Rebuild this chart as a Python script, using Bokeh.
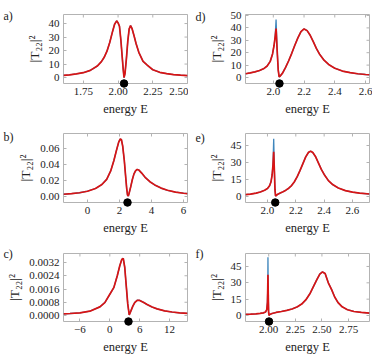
import math
from bokeh.plotting import figure
from bokeh.layouts import gridplot
from bokeh.models import Range1d, FixedTicker
from bokeh.core.properties import value
from bokeh.embed import file_html
from bokeh.resources import INLINE

RED = "#d81414"
BLUE = "#3f86bc"
SPINE = "#b3b3b3"
TXT = "#222222"
FONT = "Liberation Serif"

# ---------------- data ----------------
# panel a
a_E = [1.607, 1.65, 1.70, 1.75, 1.80, 1.85, 1.88, 1.90, 1.92, 1.94, 1.96, 1.975, 1.99, 2.0,
       2.01, 2.02, 2.03, 2.037, 2.043, 2.05, 2.06, 2.07, 2.08, 2.09, 2.10, 2.115, 2.13, 2.15,
       2.18, 2.21, 2.25, 2.30, 2.35, 2.40, 2.45, 2.50]
a_red = [1.6, 2.0, 2.7, 3.6, 5.3, 8.5, 11.8, 15, 19.5, 26, 34, 39.5, 42, 40.5,
         38, 28, 15, 6, 0, 3, 14, 27, 36, 38.5, 36.5, 31, 25, 18.5,
         12, 9.2, 5.8, 3.9, 2.9, 2.2, 1.8, 1.5]
a_blue = a_red
a_zero = 2.043

# panel b
b_E = [-1.5, -1.0, -0.5, 0.0, 0.5, 0.9, 1.2, 1.45, 1.65, 1.8, 1.95, 2.05, 2.12, 2.2, 2.3,
       2.38, 2.45, 2.5, 2.55, 2.6, 2.7, 2.8, 2.9, 3.0, 3.1, 3.2, 3.4, 3.6, 3.9, 4.2, 4.6,
       5.0, 5.5, 6.0, 6.25]
b_red = [0.0028, 0.0035, 0.0047, 0.0066, 0.0100, 0.0150, 0.0215, 0.032, 0.045, 0.057,
         0.068, 0.072, 0.071, 0.063, 0.045, 0.026, 0.010, 0.002, 0.0005, 0.004, 0.012,
         0.021, 0.028, 0.032, 0.0338, 0.0332, 0.029, 0.024, 0.0185, 0.0145, 0.0105,
         0.0078, 0.0055, 0.0041, 0.0036]
b_blue = b_red
b_zero = 2.5

# panel c
c_E = [-9.3, -8, -6, -4, -2, -1, 0, 0.8, 1.5, 2.0, 2.4, 2.7, 3.0, 3.3, 3.6, 3.9, 4.2,
       4.6, 5.0, 5.5, 6.0, 6.8, 7.5, 8.5, 9.5, 11, 12.5, 14, 15.6]
c_red = [0.00010, 0.00012, 0.00016, 0.00026, 0.00052, 0.00078, 0.00128, 0.00168, 0.0024,
         0.0030, 0.00338, 0.00345, 0.0029, 0.0018, 0.0007, 0.00003, 0.00025, 0.00055,
         0.00078, 0.00092, 0.00091, 0.00079, 0.00066, 0.00051, 0.0004, 0.00028, 0.00021,
         0.00016, 0.00013]
c_blue = c_red
c_zero = 3.75

# panel d
d_E = [1.819, 1.85, 1.88, 1.91, 1.94, 1.96, 1.98, 1.995, 2.005, 2.012, 2.018, 2.025, 2.032,
       2.038, 2.045, 2.06, 2.08, 2.10, 2.12, 2.14, 2.16, 2.18, 2.20, 2.22, 2.24, 2.26,
       2.28, 2.30, 2.33, 2.36, 2.40, 2.45, 2.50, 2.55, 2.60, 2.626]
d_red = [3.0, 3.7, 4.5, 5.6, 7.3, 9.3, 13, 19, 26, 33, 39.5, 22, 6, 0.5, 1.2, 3.5, 8.2,
         13.5, 19.5, 26, 32, 37, 39.2, 37.8, 34, 29, 23.5, 19, 14, 10.5, 7.5, 5.2, 3.9,
         3.0, 2.4, 2.2]
d_blue = [3.0, 3.7, 4.5, 5.6, 7.3, 9.3, 13, 19, 26, 33, 46.8, 22, 6, 0.5, 1.2, 3.5, 8.2,
          13.5, 19.5, 26, 32, 37, 39.2, 37.8, 34, 29, 23.5, 19, 14, 10.5, 7.5, 5.2, 3.9,
          3.0, 2.4, 2.2]
d_zero = 2.04

# panel e
e_E = [1.845, 1.88, 1.92, 1.95, 1.98, 2.00, 2.015, 2.025, 2.033, 2.039, 2.044, 2.049, 2.053,
       2.057, 2.062, 2.07, 2.09, 2.11, 2.13, 2.15, 2.17, 2.19, 2.21, 2.23, 2.25, 2.27,
       2.29, 2.305, 2.32, 2.34, 2.36, 2.38, 2.40, 2.43, 2.46, 2.50, 2.55, 2.60, 2.65, 2.72]
e_red = [1.6, 2.1, 3.0, 4.0, 5.5, 7.0, 9.5, 13, 19, 28, 39.5, 22, 6, 0.5, 0.8, 1.8, 3.0,
         4.2, 5.6, 7.3, 9.6, 13, 17.5, 23, 29, 35, 39, 40, 38.8, 35, 29.5, 24, 19.5, 14,
         10.5, 7.5, 5.2, 3.9, 3.0, 2.2]
e_blue = [1.6, 2.1, 3.0, 4.0, 5.5, 7.0, 9.5, 13, 19, 28, 51, 22, 6, 0.5, 0.8, 1.8, 3.0,
          4.2, 5.6, 7.3, 9.6, 13, 17.5, 23, 29, 35, 39, 40, 38.8, 35, 29.5, 24, 19.5, 14,
          10.5, 7.5, 5.2, 3.9, 3.0, 2.2]
e_zero = 2.055

# panel f
f_E = [1.782, 1.83, 1.88, 1.92, 1.95, 1.97, 1.982, 1.988, 1.991, 1.993, 1.996, 1.999, 2.003,
       2.01, 2.03, 2.07, 2.12, 2.17, 2.22, 2.27, 2.31, 2.35, 2.39, 2.42, 2.45, 2.48, 2.505,
       2.53, 2.56, 2.59, 2.62, 2.65, 2.69, 2.74, 2.80, 2.87, 2.947]
f_red = [1.0, 1.2, 1.5, 1.9, 2.4, 3.2, 5.5, 12, 25, 37.5, 18, 3, 0.2, 0.9, 1.8, 2.8, 3.7,
         4.7, 6.0, 8.0, 10.5, 14.5, 20.5, 26.5, 32.5, 38, 40, 38.5, 30, 24, 17, 12, 8, 5.3,
         3.7, 2.8, 2.2]
f_blue = [1.0, 1.2, 1.5, 1.9, 2.4, 3.2, 5.5, 12, 25, 53.5, 18, 3, 0.2, 0.9, 1.8, 2.8, 3.7,
          4.7, 6.0, 8.0, 10.5, 14.5, 20.5, 26.5, 32.5, 38, 40, 38.5, 30, 24, 17, 12, 8, 5.3,
          3.7, 2.8, 2.2]
f_zero = 2.003

# ticks
a_xt = [1.75, 2.0, 2.25, 2.5];   a_xl = ["1.75", "2.00", "2.25", "2.50"]
a_yt = [0, 10, 20, 30, 40];      a_yl = ["0", "10", "20", "30", "40"]
b_xt = [0, 2, 4, 6];             b_xl = ["0", "2", "4", "6"]
b_yt = [0, 0.02, 0.04, 0.06, 0.08]; b_yl = ["0.00", "0.02", "0.04", "0.06", "0.08"]
c_xt = [-6, 0, 6, 12];           c_xl = ["\u22126", "0", "6", "12"]
c_yt = [0, 0.0008, 0.0016, 0.0024, 0.0032]
c_yl = ["0.0000", "0.0008", "0.0016", "0.0024", "0.0032"]
d_xt = [2.0, 2.2, 2.4, 2.6];     d_xl = ["2.0", "2.2", "2.4", "2.6"]
d_yt = [0, 10, 20, 30, 40, 50];  d_yl = ["0", "10", "20", "30", "40", "50"]
e_xt = [2.0, 2.2, 2.4, 2.6];     e_xl = ["2.0", "2.2", "2.4", "2.6"]
e_yt = [0, 15, 30, 45];          e_yl = ["0", "15", "30", "45"]
f_xt = [2.0, 2.25, 2.5, 2.75];   f_xl = ["2.00", "2.25", "2.50", "2.75"]
f_yt = [0, 15, 30, 45];          f_yl = ["0", "15", "30", "45"]

XLABEL = "energy E"
YLABEL = "|T\u2082\u2082|\u00b2"


def style_axis(ax, ticks, labels):
    ax.ticker = FixedTicker(ticks=ticks)
    ax.axis_line_color = None
    ax.major_tick_in = 3
    ax.major_tick_out = 0
    ax.major_tick_line_color = SPINE
    ax.minor_tick_line_color = None
    ax.major_label_overrides = {t: l for t, l in zip(ticks, labels)}
    ax.major_label_text_font = FONT
    ax.major_label_text_font_size = "11px"
    ax.major_label_text_color = TXT
    ax.major_label_standoff = 4
    ax.axis_label_text_font = FONT
    ax.axis_label_text_font_size = "12.5px"
    ax.axis_label_text_font_style = "normal"
    ax.axis_label_text_color = TXT


def panel(E, red, blue, zero, xr, yr, xt, xl, yt, yl, letter, w, h, bl, br, bt, bb, dx, dy):
    p = figure(width=w, height=h, x_range=Range1d(*xr), y_range=Range1d(*yr),
               output_backend="svg", toolbar_location=None,
               min_border_left=bl, min_border_right=br, min_border_top=bt,
               min_border_bottom=bb)
    p.grid.visible = False
    p.outline_line_color = SPINE
    p.outline_line_width = 1
    p.background_fill_color = "white"
    p.border_fill_color = "white"
    # inward ticks on top and right edges (half of each dash is clipped by the frame)
    p.scatter(xt, [yr[1]] * len(xt), marker="dash", size=6, angle=math.pi / 2,
              line_color=SPINE, line_width=1)
    p.scatter([xr[1]] * len(yt), yt, marker="dash", size=6,
              line_color=SPINE, line_width=1)
    p.line(E, blue, color=BLUE, line_width=1.3)
    p.line(E, red, color=RED, line_width=1.7)
    dot = p.scatter([zero], [yr[0]], size=7.5, color="black")
    dot.level = "overlay"
    style_axis(p.below[0], xt, xl)
    style_axis(p.left[0], yt, yl)
    p.below[0].axis_label = XLABEL
    p.left[0].axis_label = YLABEL
    p.left[0].axis_label_text_font_size = "13.5px"
    p.below[0].axis_label_standoff = 4
    p.left[0].axis_label_standoff = 4
    # panel letter, placed left of the frame (overlay level is not clipped)
    lab = p.text(x=[xr[0]], y=[yr[1]], text=[letter], x_offset=dx, y_offset=dy,
                 text_font=value(FONT), text_font_size="12px", text_color=TXT,
                 text_baseline="middle", text_align="left")
    lab.level = "overlay"
    return p


# left column: canvas 0..188, frame 63..187 ; right column: canvas 188..372, frame 245..369
pa = panel(a_E, a_red, a_blue, a_zero, (1.607, 2.5), (-4.4, 46.7), a_xt, a_xl, a_yt, a_yl,
           "a)", 188, 127, 63, 1, 14, 44, -60, 1)
pd = panel(d_E, d_red, d_blue, d_zero, (1.819, 2.626), (-4.84, 50.8), d_xt, d_xl, d_yt, d_yl,
           "d)", 184, 127, 57, 3, 14, 44, -50, 2)
pb = panel(b_E, b_red, b_blue, b_zero, (-1.5, 6.25), (-0.0075, 0.0788), b_xt, b_xl, b_yt, b_yl,
           "b)", 188, 120, 63, 1, 6, 45, -60, 3)
pe = panel(e_E, e_red, e_blue, e_zero, (1.845, 2.72), (-5.3, 55.6), e_xt, e_xl, e_yt, e_yl,
           "e)", 184, 120, 57, 3, 6, 45, -50, 4)
pc = panel(c_E, c_red, c_blue, c_zero, (-9.3, 15.6), (-0.000362, 0.003744), c_xt, c_xl, c_yt, c_yl,
           "c)", 188, 114, 63, 1, 6, 40, -60, 0)
pf = panel(f_E, f_red, f_blue, f_zero, (1.782, 2.947), (-5.5, 56.9), f_xt, f_xl, f_yt, f_yl,
           "f)", 184, 114, 57, 3, 6, 40, -50, 0)

grid = gridplot([[pa, pd], [pb, pe], [pc, pf]], toolbar_location=None)

open("out.html", "w").write(file_html(grid, INLINE))
